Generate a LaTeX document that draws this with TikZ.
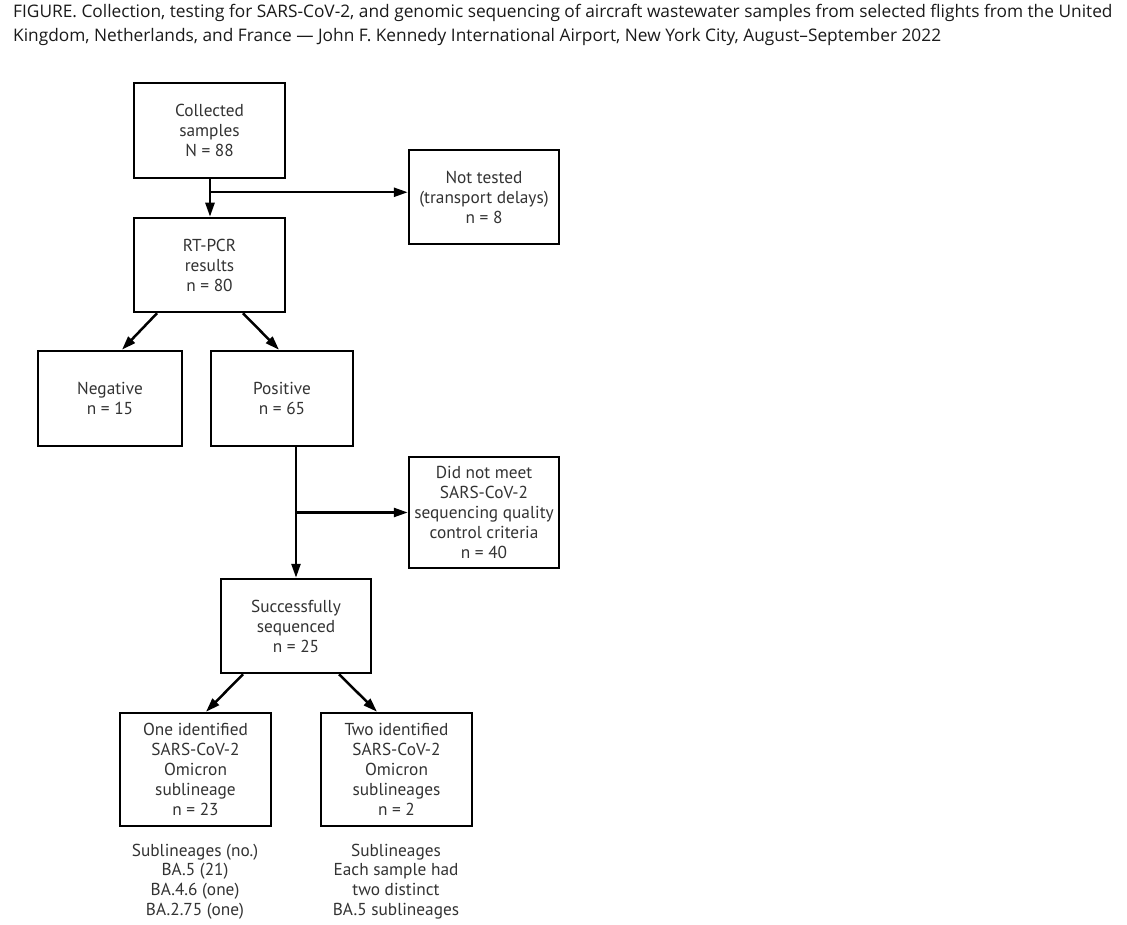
\documentclass[tikz,border=0pt]{standalone}
\usepackage{fontspec}
\setmainfont{Open Sans}
\newfontfamily\boxfont{PT Sans}
\usetikzlibrary{arrows.meta,calc}
\definecolor{captxt}{HTML}{1A1A1A}
\definecolor{boxtxt}{HTML}{333333}
\begin{document}
\begin{tikzpicture}[x=1pt,y=-1pt,
  flowbox/.style={draw=black,line width=2.5pt,rectangle,inner sep=0pt,align=center,
    text=boxtxt,font=\boxfont\fontsize{17.3}{20}\selectfont},
  note/.style={inner sep=0pt,align=center,text=boxtxt,font=\boxfont\fontsize{17.3}{19.7}\selectfont},
  conn/.style={line width=2.5pt,-{Triangle[length=14pt,width=9pt]}}]
\useasboundingbox (0,0) rectangle (1127,925);
\fill[white] (0,0) rectangle (1127,925);
\node[anchor=base west,align=left,inner sep=0pt,text=captxt,
  font=\fontsize{17.3}{24}\selectfont] (cap) at (13,41.5)
  {FIGURE. Collection, testing for SARS-CoV-2, and genomic sequencing of aircraft wastewater samples from selected flights from the United\\
   Kingdom, Netherlands, and France — John F. Kennedy International Airport, New York City, August–September 2022};

\node[flowbox,minimum width=151pt,minimum height=95pt] (col) at (209.5,130.5) {Collected\\samples\\N = 88};
\node[flowbox,minimum width=150pt,minimum height=94pt] (nt) at (484,197) {Not tested\\(transport delays)\\n = 8};
\node[flowbox,minimum width=151pt,minimum height=94pt] (rt) at (209.5,265) {RT-PCR\\results\\n = 80};
\node[flowbox,minimum width=144pt,minimum height=95pt] (neg) at (110,398.5) {Negative\\n = 15};
\node[flowbox,minimum width=142pt,minimum height=95pt] (pos) at (282,398.5) {Positive\\n = 65};
\node[flowbox,minimum width=150pt,minimum height=111pt] (dnm) at (484,512.5) {Did not meet\\SARS-CoV-2\\sequencing quality\\control criteria\\n = 40};
\node[flowbox,minimum width=150pt,minimum height=94pt] (suc) at (296,626) {Successfully\\sequenced\\n = 25};
\node[flowbox,minimum width=151pt,minimum height=113pt] (one) at (195.5,769.5) {One identified\\SARS-CoV-2\\Omicron\\sublineage\\n = 23};
\node[flowbox,minimum width=151pt,minimum height=113pt] (two) at (396.5,769.5) {Two identified\\SARS-CoV-2\\Omicron\\sublineages\\n = 2};
\node[note] (s1) at (195,881.5) {Sublineages (no.)\\BA.5 (21)\\BA.4.6 (one)\\BA.2.75 (one)};
\node[note] (s2) at (396,881.5) {Sublineages\\Each sample had\\two distinct\\BA.5 sublineages};

\coordinate (j1) at ($(col.south)+(0.5,13)$);
\draw[conn] (col.south -| j1) -- (rt.north -| j1);
\draw[conn] (j1) -- (j1 -| nt.west);
\draw[conn] ($(rt.south)+(-52.5,0)$) -- ($(neg.north)+(12,0)$);
\draw[conn] ($(rt.south)+(33.5,0)$) -- ($(pos.north)+(-3,0)$);
\coordinate (j2) at (suc.north |- dnm.west);
\draw[conn] (pos.south -| suc.north) -- (suc.north);
\draw[conn] (j2) -- (dnm.west);
\draw[conn] ($(suc.south)+(-53,0)$) -- ($(one.north)+(10.5,0)$);
\draw[conn] ($(suc.south)+(43,0)$) -- ($(two.north)+(-19.5,0)$);
\end{tikzpicture}
\end{document}
